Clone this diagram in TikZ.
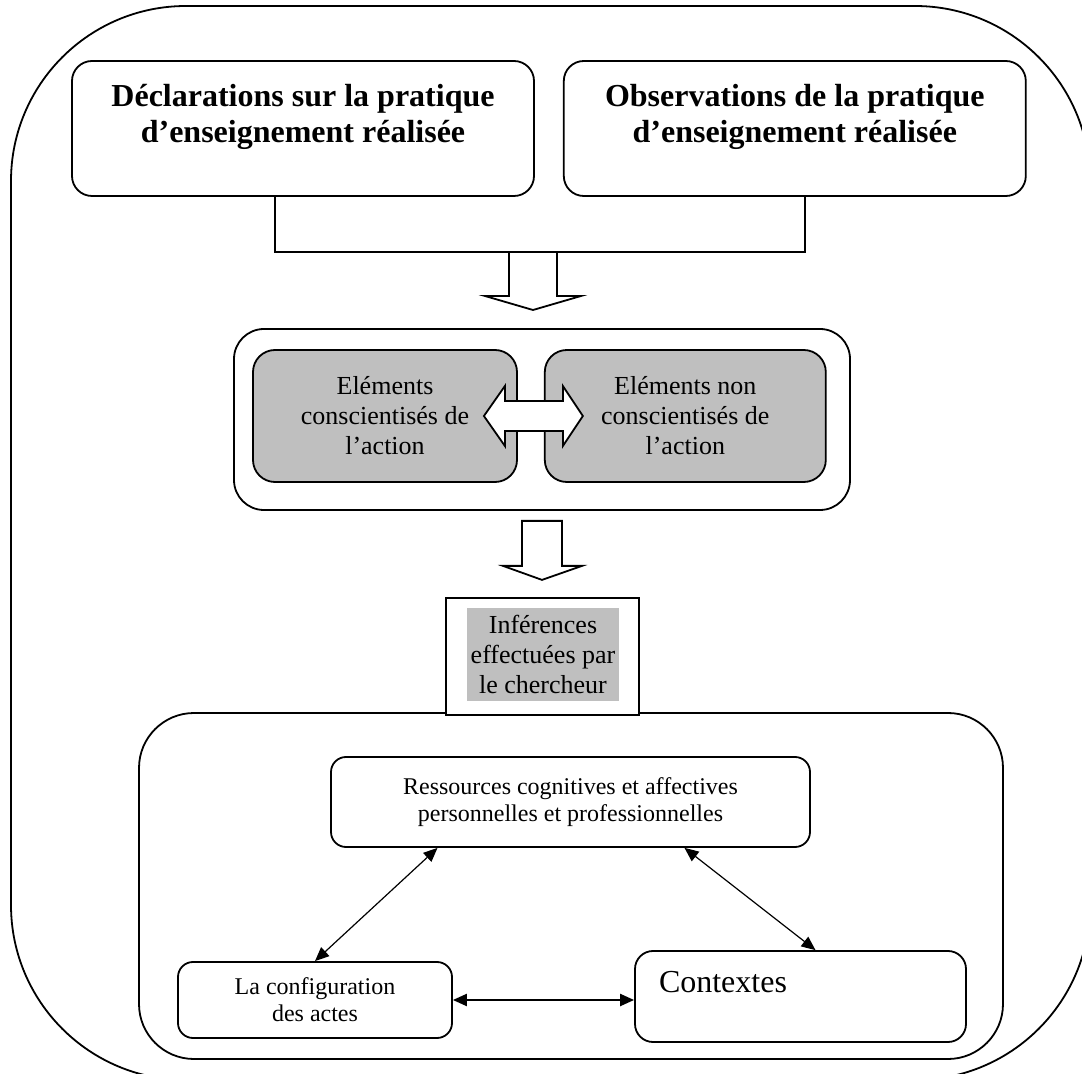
\documentclass[tikz,border=0pt]{standalone}
\usepackage{fontspec}
\setmainfont{Liberation Serif}
\usetikzlibrary{positioning,calc,arrows.meta}

\begin{document}
\begin{tikzpicture}[x=0.5pt, y=-0.5pt, line width=0.9pt,
    topbox/.style={draw, rounded corners=10pt, minimum width=231pt, minimum height=67.5pt},
    toptext/.style={align=center, inner sep=0pt, font=\fontsize{16}{18}\selectfont\bfseries},
    graybox/.style={draw, fill=black!25, rounded corners=11pt, minimum height=66pt, align=center, font=\fontsize{13}{15}\selectfont},
    whitebox/.style={draw, rounded corners=7.5pt, align=center},
    blockarrow/.style={draw, fill=white, line join=miter},
    link/.style={{Triangle[length=7pt,width=6pt]}-{Triangle[length=7pt,width=6pt]}, line width=0.6pt}]

    \useasboundingbox (0,0) rectangle (1082,1074);
    \clip (0,0) rectangle (1082,1074);

    \draw[rounded corners=87.5pt] (11,6) rectangle (1090,1080);

    \node[topbox] (decl) at (303,128.5) {};
    \node[topbox, right=14pt of decl] (obs) {};
    \node[toptext, below=11.5pt of decl.north] (decltext) {Déclarations sur la pratique\\d’enseignement réalisée};
    \node[toptext, below=11.5pt of obs.north] (obstext) {Observations de la pratique\\d’enseignement réalisée};

    \coordinate (join) at (533,252);
    \draw ($(decl.south)+(-28,0)$) |- (join) -| ($(obs.south)+(10,0)$);
    \draw[blockarrow] (join) ++(-24,0) -- ++(0,44) -- ++(-24,0) -- ++(48,14) -- ++(48,-14) -- ++(-24,0) -- ++(0,-44) -- cycle;

    \node[draw, rounded corners=15pt, minimum width=308pt, minimum height=90.5pt] (mid) at (542,419.5) {};
    \node[graybox, minimum width=132pt] (consc) at (385,416) {Eléments\\conscientisés de\\l’action};
    \node[graybox, minimum width=140.5pt, right=13pt of consc] (nonconsc) {Eléments non\\conscientisés de\\l’action};

    \coordinate (mc) at ($(consc.east)!0.5!(nonconsc.west)$);
    \draw[blockarrow] (mc) ++(-47,0) -- ++(21,-30) -- ++(0,15) -- ++(58,0) -- ++(0,-15) -- ++(20,30) -- ++(-20,30) -- ++(0,-15) -- ++(-58,0) -- ++(0,15) -- cycle;

    \coordinate (down) at ($(mid.south)+(0,10)$);
    \draw[blockarrow] (down) ++(-20,0) -- ++(0,45) -- ++(-19,0) -- ++(39,14) -- ++(40,-14) -- ++(-20,0) -- ++(0,-45) -- cycle;

    \node[draw, rounded corners=27.5pt, minimum width=432pt, minimum height=173pt] (cont) at (571,886) {};
    \node[draw, fill=white, minimum width=96.5pt, minimum height=58.5pt] (infframe) at (542.5,656.5) {};
    \node[fill=black!25, minimum width=76pt, minimum height=46.5pt, inner sep=0pt, align=center, font=\fontsize{13}{15}\selectfont] (inf) at (543,654.5) {Inférences\\effectuées par\\le chercheur};

    \node[whitebox, minimum width=239.5pt, minimum height=45pt, font=\fontsize{12}{13.5}\selectfont] (res) at (570.5,802) {Ressources cognitives et affectives\\personnelles et professionnelles};
    \node[whitebox, minimum width=137pt, minimum height=38pt, font=\fontsize{12}{13.5}\selectfont] (cfg) at (315,1000) {La configuration\\des actes};
    \node[whitebox, rounded corners=9pt, minimum width=165.5pt, minimum height=45.5pt] (ctx) at (800.5,996.5) {};
    \node[anchor=base west, inner sep=0pt, font=\fontsize{16}{19}\selectfont] (ctxtext) at ($(ctx.north west)+(24,42)$) {Contextes};

    \draw[link] ($(res.south)+(-133,0)$) -- (cfg.north);
    \draw[link] ($(res.south)+(114,0)$) -- ($(ctx.north)+(15,0)$);
    \draw[link, line width=1.1pt] (cfg.east) -- (cfg.east -| ctx.west);
\end{tikzpicture}
\end{document}
